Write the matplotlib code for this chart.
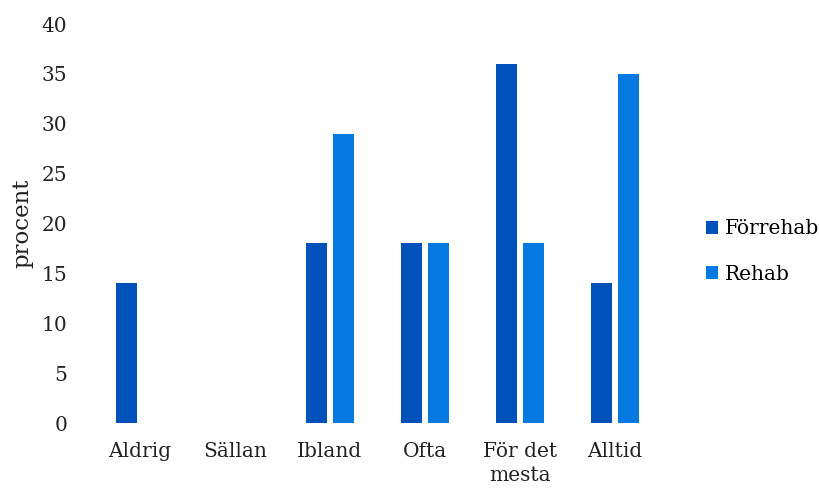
import numpy as np
import matplotlib
matplotlib.use('Agg')
import matplotlib.pyplot as plt

# Data
kategorier = ['Aldrig', 'Sällan', 'Ibland', 'Ofta', 'För det\nmesta', 'Alltid']
forrehab = [14, 0, 18, 18, 36, 14]
rehab = [0, 0, 29, 18, 18, 35]
yticks = [0, 5, 10, 15, 20, 25, 30, 35, 40]

plt.rcParams['font.family'] = ['DejaVu Serif']

fig = plt.figure(figsize=(8.2, 4.92), dpi=100)
ax = fig.add_axes([0.1128, 0.1402, 0.6951, 0.811])

x = np.arange(len(kategorier))
bredd = 0.216
ax.bar(x - 0.142, forrehab, bredd, color='#0051b9', label='Förrehab')
ax.bar(x + 0.142, rehab, bredd, color='#0679e0', label='Rehab')

ax.set_xlim(-0.5, len(kategorier) - 0.5)
ax.set_ylim(0, 40)
ax.set_yticks(yticks)
ax.set_xticks(x)
ax.set_xticklabels(kategorier, linespacing=1.3)
ax.tick_params(axis='both', length=0, labelsize=14.5, colors='#222222')
ax.tick_params(axis='y', pad=18)
ax.tick_params(axis='x', pad=14)
for s in ax.spines.values():
    s.set_visible(False)

ax.set_ylabel('procent', fontsize=16.5, color='#222222', labelpad=6)

ax.legend(loc='center left', bbox_to_anchor=(1.045, 0.43), frameon=False,
          fontsize=14.5, handlelength=0.6, handleheight=0.6, handletextpad=0.3,
          labelspacing=1.3)

fig.savefig('out.png', dpi=100)
